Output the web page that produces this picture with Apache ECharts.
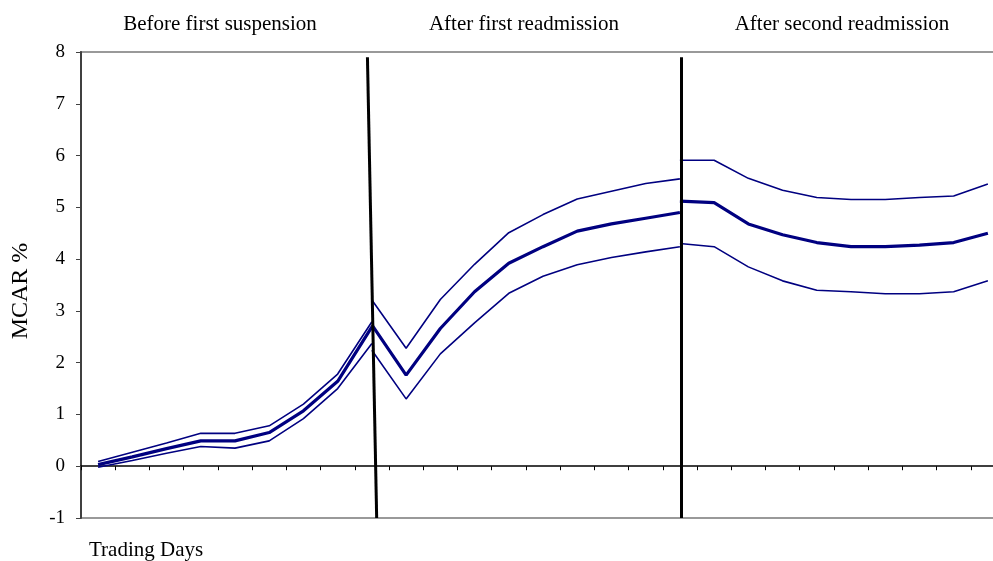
<!DOCTYPE html>
<html>
<head>
<meta charset="utf-8">
<script src="https://cdn.jsdelivr.net/npm/echarts@6/dist/echarts.min.js"></script>
<style>html,body{margin:0;padding:0;background:#fff;overflow:hidden}#c{width:1012px;height:561px}</style>
</head>
<body>
<div id="c"></div>
<script>
// Trading day categories (27 days, 3 periods sharing boundary days)
const days = Array.from({length: 27}, (_, i) => String(i + 1));
const sectionStarts = [0, 8, 17];
const sectionLabels = ['Before first suspension', 'After first readmission', 'After second readmission'];
const yTicks = [-1, 0, 1, 2, 3, 4, 5, 6, 7, 8];

// Before first suspension (days 1-9)
const s1Upper = [0.09, 0.27, 0.45, 0.635, 0.635, 0.78, 1.20, 1.78, 2.79];
const s1Mean  = [0.03, 0.18, 0.34, 0.49, 0.49, 0.65, 1.07, 1.64, 2.69];
const s1Lower = [-0.02, 0.11, 0.25, 0.38, 0.35, 0.49, 0.92, 1.50, 2.37];
// After first readmission (days 9-18)
const s2Upper = [3.21, 2.28, 3.22, 3.90, 4.51, 4.86, 5.16, 5.31, 5.46, 5.55];
const s2Mean  = [2.73, 1.76, 2.66, 3.37, 3.92, 4.24, 4.54, 4.68, 4.79, 4.90];
const s2Lower = [2.24, 1.30, 2.17, 2.77, 3.34, 3.67, 3.89, 4.03, 4.14, 4.24];
// After second readmission (days 18-27)
const s3Upper = [5.91, 5.91, 5.56, 5.33, 5.19, 5.15, 5.15, 5.19, 5.22, 5.45];
const s3Mean  = [5.12, 5.09, 4.68, 4.47, 4.32, 4.24, 4.24, 4.27, 4.32, 4.50];
const s3Lower = [4.30, 4.24, 3.85, 3.58, 3.40, 3.37, 3.33, 3.33, 3.37, 3.58];

// Period boundary lines in data space [x(day index), y]
const boundary1 = [[7.87, 7.9], [8.14, -1]];
const boundary2 = [[17.05, 7.9], [17.05, -1]];

const sections = [
  [s1Upper, s1Mean, s1Lower],
  [s2Upper, s2Mean, s2Lower],
  [s3Upper, s3Mean, s3Lower]
];

function pad(arr, start) {
  const out = new Array(days.length).fill(null);
  arr.forEach((v, i) => { out[start + i] = v; });
  return out;
}

const NAVY = '#000080';
const FONT = 'Liberation Serif';
const series = [];
sections.forEach((sec, si) => {
  sec.forEach((arr, li) => {
    series.push({
      type: 'line',
      name: sectionLabels[si] + [' upper', ' mean', ' lower'][li],
      data: pad(arr, sectionStarts[si]),
      symbol: 'none',
      connectNulls: false,
      lineStyle: {color: NAVY, width: li === 1 ? 3.2 : 1.6},
      z: 3
    });
  });
});
series.push({
  type: 'lines',
  coordinateSystem: 'cartesian2d',
  xAxisIndex: 1,
  yAxisIndex: 0,
  lineStyle: {color: '#000', width: 3, opacity: 1},
  data: [{coords: boundary1}, {coords: boundary2}],
  z: 4
});

const titleStyle = {fontFamily: FONT, fontSize: 21, fontWeight: 'normal', color: '#000'};
const chart = echarts.init(document.getElementById('c'), null, {renderer: 'canvas'});
chart.setOption({
  animation: false,
  backgroundColor: '#fff',
  title: [
    {text: sectionLabels[0], left: 215, top: 9, textAlign: 'center', textStyle: titleStyle},
    {text: sectionLabels[1], left: 519, top: 9, textAlign: 'center', textStyle: titleStyle},
    {text: sectionLabels[2], left: 837, top: 9, textAlign: 'center', textStyle: titleStyle},
    {text: 'Trading Days', left: 84, top: 535, textStyle: titleStyle}
  ],
  grid: {left: 81, width: 924, top: 52, height: 466, show: true, borderColor: '#999', borderWidth: 2, backgroundColor: 'transparent'},
  xAxis: [
    {type: 'category', data: days, boundaryGap: true,
     axisLine: {onZero: true, lineStyle: {color: '#000', width: 1.5}},
     axisTick: {show: true, length: 4, lineStyle: {color: '#000'}},
     axisLabel: {show: false}, splitLine: {show: false}},
    {type: 'value', min: -0.5, max: 26.5, show: false}
  ],
  yAxis: {
    type: 'value', min: yTicks[0], max: yTicks[yTicks.length - 1], interval: 1,
    name: 'MCAR %', nameLocation: 'middle', nameGap: 48, nameRotate: 90,
    nameTextStyle: {fontFamily: FONT, fontSize: 24, color: '#000', padding: [0, 12, 0, 0]},
    axisLine: {show: true, onZero: false, lineStyle: {color: '#404040', width: 2}},
    axisTick: {show: true, length: 5, lineStyle: {color: '#404040'}},
    axisLabel: {fontFamily: FONT, fontSize: 19, color: '#000', margin: 16},
    splitLine: {show: false}
  },
  series: series
});
</script>
</body>
</html>
